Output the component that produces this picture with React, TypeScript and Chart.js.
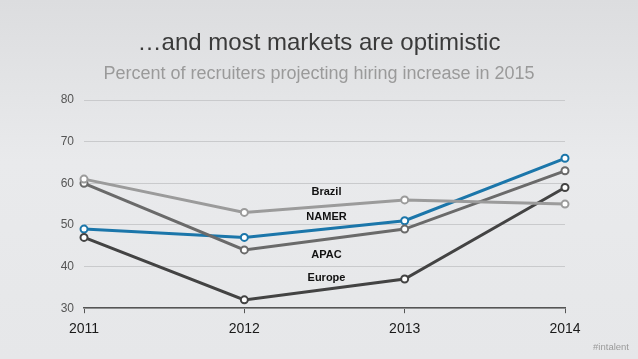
import React, { useEffect, useRef } from "react";
import { Chart, registerables } from "chart.js";

Chart.register(...registerables);

const years = ["2011", "2012", "2013", "2014"];
const brazil = [61, 53, 56, 55];
const namer = [49, 47, 51, 66];
const apac = [60, 44, 49, 63];
const europe = [47, 32, 37, 59];
const seriesNames = ["Brazil", "NAMER", "APAC", "Europe"];
const labelValues = [57.9, 51.9, 42.7, 37.2];
const labelIndex = 1.5;
const yMin = 30;
const yMax = 80;
const yStep = 10;

const titleText = "\u2026and most markets are optimistic";
const subtitleText = "Percent of recruiters projecting hiring increase in 2015";

const FONT = "'Liberation Sans', Arial, Helvetica, sans-serif";

const seriesLabels = {
  id: "seriesLabels",
  afterDatasetsDraw(chart: any) {
    const { ctx, scales } = chart;
    const x = scales.x.getPixelForValue(labelIndex);
    ctx.save();
    ctx.font = `bold 11px ${FONT}`;
    ctx.fillStyle = "#111";
    ctx.textAlign = "center";
    ctx.textBaseline = "middle";
    seriesNames.forEach((n, i) => {
      ctx.fillText(n, x + 2, scales.y.getPixelForValue(labelValues[i]));
    });
    ctx.restore();
  },
};

export default function App() {
  const ref = useRef<HTMLCanvasElement | null>(null);
  useEffect(() => {
    document.body.style.margin = "0";
    const mk = (label: string, data: number[], color: string) => ({
      label,
      data,
      borderColor: color,
      backgroundColor: "#ffffff",
      pointBackgroundColor: "#ffffff",
      pointBorderColor: color,
      pointRadius: 3.5,
      pointBorderWidth: 2,
      borderWidth: 3,
      tension: 0,
    });
    const chart = new Chart(ref.current as HTMLCanvasElement, {
      type: "line",
      data: {
        labels: years,
        datasets: [
          mk("Brazil", brazil, "#9b9b9b"),
          mk("APAC", apac, "#6a6a6a"),
          mk("Europe", europe, "#434343"),
          mk("NAMER", namer, "#1b76aa"),
        ],
      },
      options: {
        animation: false,
        responsive: false,
        layout: { padding: { left: 0, right: 73, top: 100, bottom: 13 } },
        plugins: {
          legend: { display: false },
          tooltip: { enabled: false },
          title: { display: false },
        },
        scales: {
          x: {
            offset: false,
            grid: {
              drawOnChartArea: false,
              drawTicks: true,
              tickLength: 5,
              color: "#555",
            },
            border: { display: true, color: "#555", width: 1.5 },
            ticks: {
              color: "#1a1a1a",
              font: { family: FONT, size: 14 },
              padding: 8,
              maxRotation: 0,
            },
          },
          y: {
            min: yMin,
            max: yMax,
            afterFit(scale: any) {
              scale.width = 84;
            },
            grid: { color: "#c9cacc", drawTicks: false, lineWidth: 1 },
            border: { display: false },
            ticks: {
              stepSize: yStep,
              color: "#555",
              font: { family: FONT, size: 12 },
              padding: 10,
            },
          },
        },
      },
      plugins: [seriesLabels],
    });
    return () => chart.destroy();
  }, []);
  const textBase: React.CSSProperties = {
    position: "absolute",
    left: 0,
    width: 638,
    textAlign: "center",
    fontFamily: FONT,
    whiteSpace: "nowrap",
    lineHeight: 1,
  };
  return (
    <div
      style={{
        position: "absolute",
        left: 0,
        top: 0,
        width: 638,
        height: 359,
        background: "linear-gradient(180deg, #dcdddf 0%, #e9eaec 45%, #e6e7e9 100%)",
      }}
    >
      <canvas ref={ref} width={638} height={359} style={{ display: "block" }} />
      <div style={{ ...textBase, top: 30, fontSize: 24, color: "#3a3a3a" }}>{titleText}</div>
      <div style={{ ...textBase, top: 64, fontSize: 18, color: "#9a9a9a" }}>{subtitleText}</div>
      <div
        style={{
          position: "absolute",
          right: 9,
          bottom: 7,
          fontFamily: FONT,
          fontSize: 9.5,
          color: "#9a9a9a",
        }}
      >
        #intalent
      </div>
    </div>
  );
}
